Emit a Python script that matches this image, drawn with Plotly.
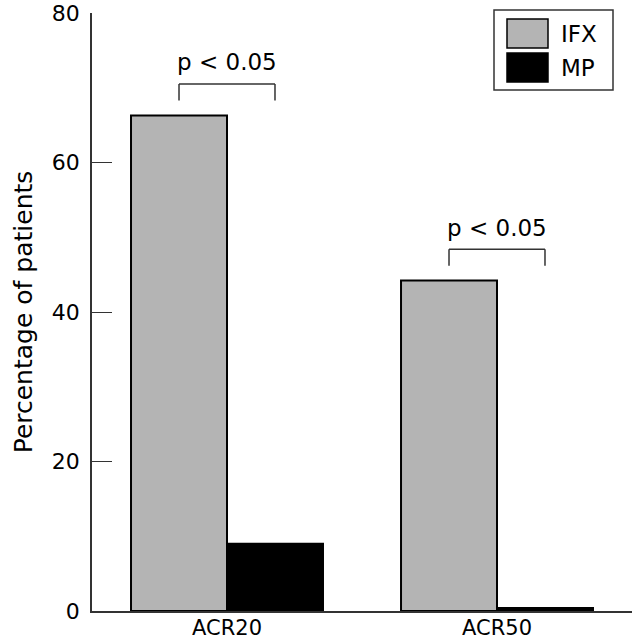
import plotly.graph_objects as go

categories = ["ACR20", "ACR50"]
series_names = ["IFX", "MP"]
ifx_values = [66.3, 44.2]
mp_values = [9.0, 0.4]
p_labels = ["p < 0.05", "p < 0.05"]
y_ticks = [0, 20, 40, 60, 80]

colors = {"IFX": "#b4b4b4", "MP": "#000000"}
font_family = "DejaVu Sans, sans-serif"
line_col = "#333"

fig = go.Figure()
for name, vals in zip(series_names, [ifx_values, mp_values]):
    fig.add_trace(go.Bar(
        x=categories, y=vals, name=name,
        marker=dict(color=colors[name], line=dict(color="black", width=2)),
        showlegend=False,
    ))

# significance brackets over the two bars of each group
bargap = 0.289
half = (1 - bargap) / 4  # offset of each bar centre from the category centre
for i, cat in enumerate(categories):
    top = max(ifx_values[i], mp_values[i]) + 4.2
    leg = top - 2.2
    x0, x1 = i - half, i + half
    for xa, ya, xb, yb in [(x0, leg, x0, top), (x0, top, x1, top), (x1, top, x1, leg)]:
        fig.add_shape(type="line", xref="x", yref="y", x0=xa, y0=ya, x1=xb, y1=yb,
                      line=dict(color=line_col, width=1.5))
    fig.add_annotation(x=i, y=top + 2.9, text=p_labels[i], showarrow=False,
                       font=dict(size=23, color="black", family=font_family))

# legend box with large swatches (paper coords)
def px_x(p):
    return (p - 92) / 540

def px_y(p):
    return (611 - p) / 598

fig.add_shape(type="rect", xref="paper", yref="paper",
              x0=px_x(494), x1=px_x(613), y0=px_y(90), y1=px_y(10),
              line=dict(color=line_col, width=1.5), fillcolor="white")
for name, st in zip(series_names, [19, 53]):
    fig.add_shape(type="rect", xref="paper", yref="paper",
                  x0=px_x(507), x1=px_x(548), y0=px_y(st + 29), y1=px_y(st),
                  fillcolor=colors[name], line=dict(color="black", width=1.5))
    fig.add_annotation(xref="paper", yref="paper", x=px_x(559), y=px_y(st + 14.5),
                       xanchor="left", yanchor="middle", text=name, showarrow=False,
                       font=dict(size=23, color="black", family=font_family))

fig.update_layout(
    width=633, height=640,
    margin=dict(l=92, r=1, t=13, b=29),
    paper_bgcolor="white", plot_bgcolor="white",
    barmode="group", bargap=bargap, bargroupgap=0,
    font=dict(family=font_family, size=22, color="black"),
)
fig.update_xaxes(
    range=[-0.5, 1.5], showline=True, linecolor=line_col, linewidth=1.5,
    ticks="", showgrid=False, zeroline=False, automargin=False,
    tickfont=dict(size=21), ticklabeloverflow="allow", ticklabelstandoff=-3,
)
fig.update_yaxes(
    range=[0, 80], tickvals=y_ticks, ticks="inside", ticklen=20, tickwidth=1.2,
    tickcolor=line_col, showline=True, linecolor=line_col, linewidth=1.5,
    showgrid=False, zeroline=False, automargin=False, ticklabelstandoff=6,
    tickfont=dict(size=22), ticklabeloverflow="allow",
    title=dict(text="Percentage of patients", font=dict(size=25), standoff=12),
)

fig.write_html("out.html", config={"displayModeBar": False},
               post_script="document.body.style.margin='0';")
